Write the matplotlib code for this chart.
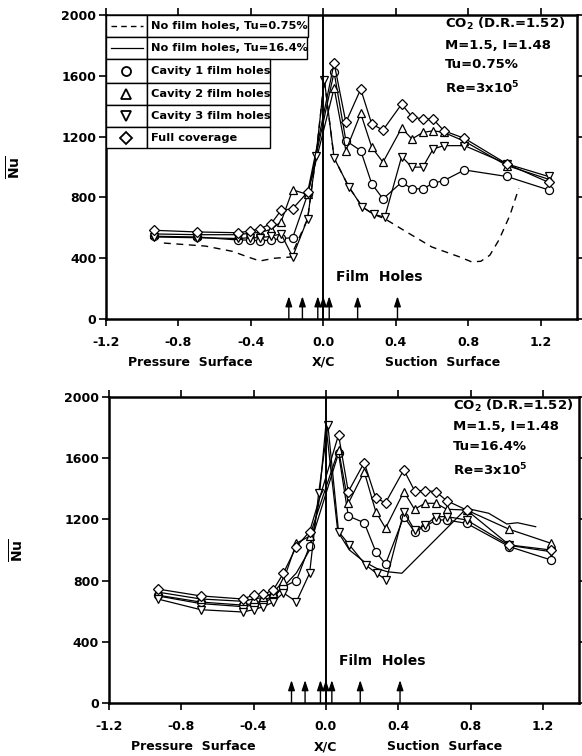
import matplotlib
matplotlib.use("Agg")
from matplotlib import pyplot as plt
from matplotlib.patches import Rectangle

plt.rcParams['font.family'] = ['DejaVu Sans']
plt.rcParams['font.weight'] = 'bold'
plt.rcParams['mathtext.fontset'] = 'custom'
plt.rcParams['mathtext.rm'] = 'DejaVu Sans:bold'
plt.rcParams['mathtext.bf'] = 'DejaVu Sans:bold'
plt.rcParams['mathtext.it'] = 'DejaVu Sans:bold'
plt.rcParams['mathtext.default'] = 'rm'

# ---- top panel, Tu=0.75% ----
top_x_ps = [-0.936, -0.697, -0.468, -0.407, -0.348, -0.288, -0.233, -0.169, -0.086]
top_x_ss = [0.06, 0.125, 0.207, 0.268, 0.33, 0.433, 0.49, 0.55, 0.607, 0.666, 0.78, 1.014, 1.244]
top_cav1 = [545, 540, 520, 520, 515, 520, 530, 535, 820,
            1625, 1174, 1108, 890, 791, 900, 857, 857, 894, 911, 981, 938, 850]
top_cav2 = [560, 555, 555, 565, 570, 590, 640, 850, 820,
            1520, 1108, 1353, 1130, 1032, 1257, 1185, 1228, 1239, 1228, 1170, 1010, 920]
top_full = [584, 573, 568, 579, 595, 627, 715, 726, 835,
            1685, 1294, 1513, 1283, 1244, 1414, 1331, 1316, 1316, 1239, 1189, 1021, 900]
top_cav3_x = [-0.936, -0.697, -0.468, -0.407, -0.348, -0.288, -0.233, -0.169, -0.086, -0.04,
              0.006, 0.06, 0.14, 0.216, 0.28, 0.34, 0.433, 0.49, 0.55, 0.607, 0.666, 0.78, 1.014, 1.244]
top_cav3 = [540, 535, 530, 535, 535, 545, 560, 410, 660, 1075,
            1575, 1060, 872, 737, 688, 671, 1069, 999, 1000, 1119, 1141, 1141, 1021, 938]
top_nofilm_x = [-0.88, -0.65, -0.5, -0.42, -0.35, -0.27, -0.18, -0.086, -0.04, 0.006,
                0.06, 0.14, 0.216, 0.28, 0.34, 0.45, 0.6, 0.75, 0.82, 0.87, 0.92, 0.97, 1.03, 1.08]
top_nofilm = [500, 480, 445, 410, 382, 400, 408, 660, 1075, 1575,
              1060, 872, 737, 688, 660, 580, 474, 410, 376, 380, 420, 520, 680, 860]

# ---- bottom panel, Tu=16.4% ----
bot_x_ps = [-0.93, -0.692, -0.46, -0.40, -0.345, -0.29, -0.235, -0.163, -0.09]
bot_x_ss = [0.07, 0.124, 0.212, 0.276, 0.33, 0.431, 0.49, 0.548, 0.608, 0.668, 0.778, 1.014, 1.244]
bot_cav1 = [705, 660, 640, 650, 670, 700, 760, 800, 1026,
            1632, 1222, 1178, 989, 908, 1218, 1120, 1152, 1196, 1196, 1174, 1022, 935]
bot_cav2 = [725, 680, 665, 680, 690, 720, 800, 1044, 1090,
            1654, 1305, 1512, 1250, 1142, 1381, 1266, 1305, 1305, 1266, 1261, 1135, 1044]
bot_full = [745, 700, 680, 705, 710, 740, 848, 1022, 1120,
            1752, 1381, 1571, 1338, 1309, 1523, 1388, 1388, 1381, 1322, 1261, 1033, 1000]
bot_cav3_x = [-0.93, -0.692, -0.46, -0.40, -0.345, -0.29, -0.235, -0.163, -0.09, -0.04,
              0.011, 0.07, 0.13, 0.22, 0.28, 0.334, 0.431, 0.49, 0.548, 0.608, 0.668, 0.778, 1.014, 1.244]
bot_cav3 = [680, 610, 595, 610, 630, 660, 720, 662, 848, 1370,
            1817, 1120, 1033, 902, 848, 804, 1250, 1131, 1160, 1218, 1218, 1196, 1030, 989]
bot_nofilm_x = [-0.93, -0.692, -0.46, -0.40, -0.345, -0.29, -0.235, -0.163, -0.09, -0.04, 0.0,
                0.066, 0.13, 0.212, 0.28, 0.34, 0.42, 0.778, 0.9, 1.0, 1.06, 1.16]
bot_nofilm = [700, 650, 630, 640, 655, 690, 760, 850, 1000, 1300, 1817,
              1120, 1000, 923, 880, 858, 848, 1272, 1240, 1170, 1178, 1152]

hole_x = [-0.19, -0.115, -0.03, 0.0, 0.033, 0.19, 0.41]
xticks = [-1.2, -0.8, -0.4, 0.0, 0.4, 0.8, 1.2]
yticks = [0, 400, 800, 1200, 1600, 2000]

legend_labels = ["No film holes, Tu=0.75%", "No film holes, Tu=16.4%", "Cavity 1 film holes",
                 "Cavity 2 film holes", "Cavity 3 film holes", "Full coverage"]

mk = dict(color='k', lw=0.9, ms=5.8, mfc='white', mew=0.9)

fig = plt.figure(figsize=(5.82, 7.56), dpi=100)
ax1 = fig.add_axes([0.182, 0.578, 0.809, 0.402])
ax2 = fig.add_axes([0.187, 0.070, 0.808, 0.405])


def style(ax):
    ax.set_xlim(-1.2, 1.4)
    ax.set_ylim(0, 2000)
    ax.set_xticks(xticks)
    ax.set_xticklabels(["%.1f" % v for v in xticks])
    ax.set_yticks(yticks)
    ax.tick_params(direction='out', length=5, width=1.2, labelsize=9,
                   top=True, right=True)
    ax.tick_params(axis='x', pad=7)
    ax.tick_params(axis='y', pad=2)
    for s in ax.spines.values():
        s.set_linewidth(1.8)
    ax.axvline(0, color='k', lw=1.4)
    for hx in hole_x:
        ax.annotate('', xy=(hx, 150), xytext=(hx, 0),
                    arrowprops=dict(arrowstyle='-|>,head_length=0.6,head_width=0.2',
                                    color='k', lw=1.0, shrinkA=0, shrinkB=0))
    ax.text(0.07, 275, "Film  Holes", fontsize=10, fontweight='bold', va='center')
    ax.set_ylabel(r'$\overline{\mathrm{Nu}}$', fontsize=10)
    ax.yaxis.set_label_coords(-0.175, 0.5)
    tr = ax.get_xaxis_transform()
    ax.text(-1.08, -0.143, "Pressure  Surface", transform=tr, fontsize=9, ha='left', va='center')
    ax.text(0.0, -0.143, "X/C", transform=tr, fontsize=9, ha='center', va='center')
    ax.text(0.34, -0.143, "Suction  Surface", transform=tr, fontsize=9, ha='left', va='center')


# top
ax1.plot(top_nofilm_x, top_nofilm, color='k', lw=1.0, ls=(0, (5, 4)))
ax1.plot(top_x_ps + top_x_ss, top_cav1, marker='o', **mk)
ax1.plot(top_x_ps + top_x_ss, top_cav2, marker='^', **mk)
ax1.plot(top_cav3_x, top_cav3, marker='v', **mk)
ax1.plot(top_x_ps + top_x_ss, top_full, marker='D', **dict(mk, ms=5))
style(ax1)
ax1.text(0.72, 0.997, "CO$_2$ (D.R.=1.52)\nM=1.5, I=1.48\nTu=0.75%\nRe=3x10$^5$",
         transform=ax1.transAxes, fontsize=9.5, va='top', ha='left', linespacing=1.65)

# bottom
ax2.plot(bot_nofilm_x, bot_nofilm, color='k', lw=0.9)
ax2.plot(bot_x_ps + bot_x_ss, bot_cav1, marker='o', **mk)
ax2.plot(bot_x_ps + bot_x_ss, bot_cav2, marker='^', **mk)
ax2.plot(bot_cav3_x, bot_cav3, marker='v', **mk)
ax2.plot(bot_x_ps + bot_x_ss, bot_full, marker='D', **dict(mk, ms=5))
style(ax2)
ax2.text(0.732, 0.997, "CO$_2$ (D.R.=1.52)\nM=1.5, I=1.48\nTu=16.4%\nRe=3x10$^5$",
         transform=ax2.transAxes, fontsize=9.5, va='top', ha='left', linespacing=1.65)

# boxed legend on the top panel
W, H = 471.0, 304.0
row_edges = [15, 37, 59, 83, 105, 127, 148]
right_px = [308, 307, 270, 270, 270, 270]
sym_right = (147 - 106) / W
for i, lab in enumerate(legend_labels):
    y0 = (319 - row_edges[i + 1]) / H
    y1 = (319 - row_edges[i]) / H
    xr = (right_px[i] - 106) / W
    ax1.add_patch(Rectangle((0, y0), sym_right, y1 - y0, transform=ax1.transAxes,
                            fc='white', lw=1.0, ec='k', zorder=5))
    ax1.add_patch(Rectangle((sym_right, y0), xr - sym_right, y1 - y0, transform=ax1.transAxes,
                            fc='white', lw=1.0, ec='k', zorder=5))
    ax1.text(sym_right + 0.008, (y0 + y1) / 2, lab, transform=ax1.transAxes,
             fontsize=8.2, va='center', ha='left', zorder=6)
    yc = (y0 + y1) / 2
    if i == 0:
        ax1.plot([0.01, sym_right - 0.008], [yc, yc], transform=ax1.transAxes,
                 color='k', lw=1.0, ls=(0, (4, 3)), zorder=6)
    elif i == 1:
        ax1.plot([0.01, sym_right - 0.008], [yc, yc], transform=ax1.transAxes,
                 color='k', lw=0.9, zorder=6)
    else:
        m = ['o', '^', 'v', 'D'][i - 2]
        ax1.plot([sym_right / 2], [yc], transform=ax1.transAxes, marker=m, ls='none',
                 ms=6.5 if m != 'D' else 5.8, mfc='white', mec='k', mew=1.3, zorder=6)

ax1.set_xlim(-1.2, 1.4)
ax1.set_ylim(0, 2000)

fig.savefig("out.png", dpi=100)
